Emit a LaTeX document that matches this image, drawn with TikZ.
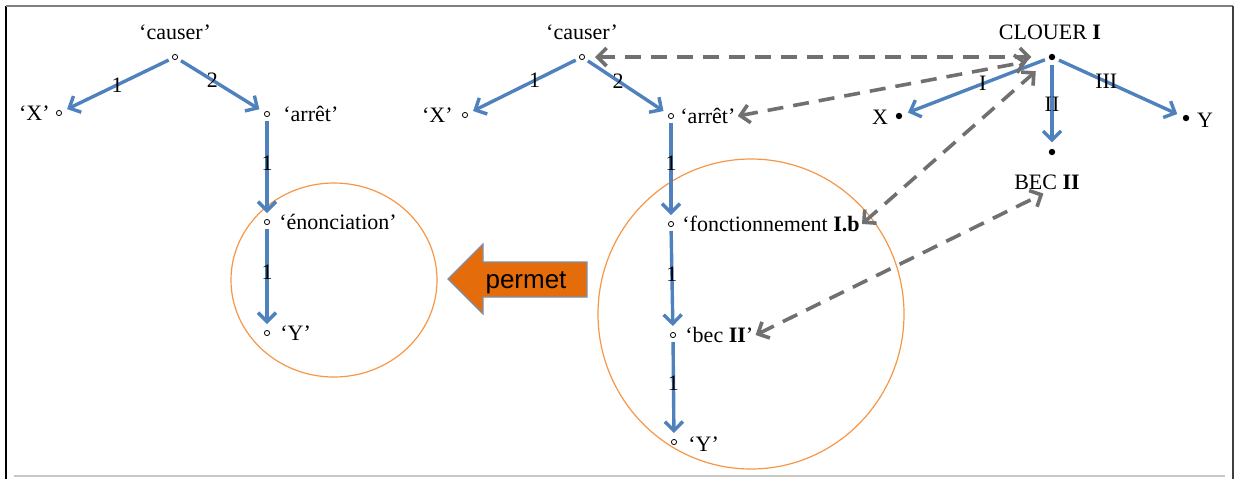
\documentclass[tikz,border=0pt]{standalone}
\usepackage{fontspec}
\setmainfont{Liberation Serif}
\newfontfamily\arialfont{Liberation Sans}
\usetikzlibrary{arrows.meta}
\definecolor{depblue}{RGB}{79,129,189}
\definecolor{linkgray}{RGB}{112,112,112}
\definecolor{zoneorange}{RGB}{247,150,70}
\definecolor{permetfill}{RGB}{228,108,10}
\definecolor{permetline}{RGB}{124,144,172}
\tikzset{
  sempoint/.style={circle,draw,line width=0.4pt,inner sep=0pt,minimum size=2.6pt},
  lexpoint/.style={circle,fill=black,inner sep=0pt,minimum size=3.2pt},
  lab/.style={inner sep=1pt},
  deparrow/.style={draw=depblue,line width=1.7pt,-{Straight Barb[length=4.5pt,width=9pt]},shorten <=2pt,shorten >=3pt},
  linkarrow/.style={draw=linkgray,line width=1.8pt,dash pattern=on 8pt off 5pt,{Straight Barb[length=4.5pt,width=9pt]}-{Straight Barb[length=4.5pt,width=9pt]}},
  zone/.style={draw=zoneorange,line width=0.6pt}
}
\newcommand{\sempt}[3]{\node[sempoint] (#1) at (#2,#3) {};}
\newcommand{\lexpt}[3]{\node[lexpoint] (#1) at (#2,#3) {};}
\begin{document}
\begin{tikzpicture}[x=0.5pt,y=-0.5pt,font=\fontsize{11}{13}\selectfont]
\useasboundingbox (0,0) rectangle (1235,479);
\draw[black,line width=0.9pt] (6,6)--(6,479);
\draw[gray,line width=1pt] (6,6)--(1233,6);
\draw[darkgray,line width=0.9pt] (1233,6)--(1233,479);
\draw[black!22,line width=1.2pt] (14,476)--(1225,476);
\draw[zone] (334,280) ellipse [x radius=103, y radius=97];
\draw[zone] (751,314) ellipse [x radius=153, y radius=155];
\sempt{cA}{175}{57}
\sempt{xA}{59}{113}
\sempt{arA}{267}{114}
\sempt{enA}{267}{222}
\sempt{yA}{267}{333}
\node[lab] (cAlab) at (175,32) {‘causer’};
\node[lab,anchor=east] (xAlab) at (52,113) {‘X’};
\node[lab,anchor=west] (arAlab) at (281,114) {‘arrêt’};
\node[lab,anchor=west] (enAlab) at (277,222) {‘énonciation’};
\node[lab,anchor=west] (yAlab) at (278,333) {‘Y’};
\draw[deparrow] (cA) -- node[lab,pos=.5] (lA1) {1} (xA);
\draw[deparrow] (cA) -- node[lab,pos=.4] (lA2) {2} (arA);
\draw[deparrow] (arA) -- node[lab,pos=.45] (lA3) {1} (enA);
\draw[deparrow] (enA) -- node[lab,pos=.45] (lA4) {1} (yA);
\fill[permetfill,draw=permetline,line width=0.6pt] (448,279)--(483,244)--(483,262)--(587,262)--(587,297)--(483,297)--(483,314)--cycle;
\node[anchor=base,inner sep=0pt,font=\arialfont\fontsize{13}{15}\selectfont] (permet) at (526,288) {permet};
\sempt{cB}{582}{57}
\sempt{xB}{465}{115}
\sempt{arB}{671}{116}
\sempt{foB}{671}{224}
\sempt{beB}{673}{335}
\sempt{yB}{674}{442}
\node[lab] (cBlab) at (582,32) {‘causer’};
\node[lab,anchor=east] (xBlab) at (455,115) {‘X’};
\node[lab,anchor=west] (arBlab) at (678,116) {‘arrêt’};
\node[lab,anchor=west] (foBlab) at (680,224) {‘fonctionnement \textbf{I.b}};
\node[lab,anchor=west] (beBlab) at (683,335) {‘bec \textbf{II}’};
\node[lab,anchor=west] (yBlab) at (686,444) {‘Y’};
\draw[deparrow] (cB) -- node[lab,pos=.4] (lB1) {1} (xB);
\draw[deparrow] (cB) -- node[lab,pos=.4] (lB2) {2} (arB);
\draw[deparrow] (arB) -- node[lab,pos=.43] (lB3) {1} (foB);
\draw[deparrow] (foB) -- node[lab,pos=.45] (lB4) {1} (beB);
\draw[deparrow] (beB) -- node[lab,pos=.45] (lB5) {1} (yB);
\lexpt{cl}{1052}{57}
\lexpt{xC}{899}{116}
\lexpt{bC}{1052}{152}
\lexpt{yC}{1186}{118}
\node[lab] (cllab) at (1050,32) {CLOUER \textbf{I}};
\node[lab] (xClab) at (880,117) {X};
\node[lab] (yClab) at (1205,120) {Y};
\node[lab] (bClab) at (1047,182) {BEC \textbf{II}};
\draw[deparrow] (cl) -- node[lab,pos=.45] (lC1) {I} (xC);
\draw[deparrow] (cl) -- node[lab,pos=.5] (lC2) {II} (bC);
\draw[deparrow] (cl) -- node[lab,pos=.4] (lC3) {III} (yC);
\draw[linkarrow,shorten <=5pt,shorten >=8.5pt] (cB) -- (cl);
\draw[linkarrow,shorten >=11pt] (arBlab.east) -- (cl);
\draw[linkarrow,shorten >=9pt] (foBlab.east) -- (cl);
\draw[linkarrow,shorten >=2pt] (beBlab.east) -- (bClab.south);
\end{tikzpicture}
\end{document}
